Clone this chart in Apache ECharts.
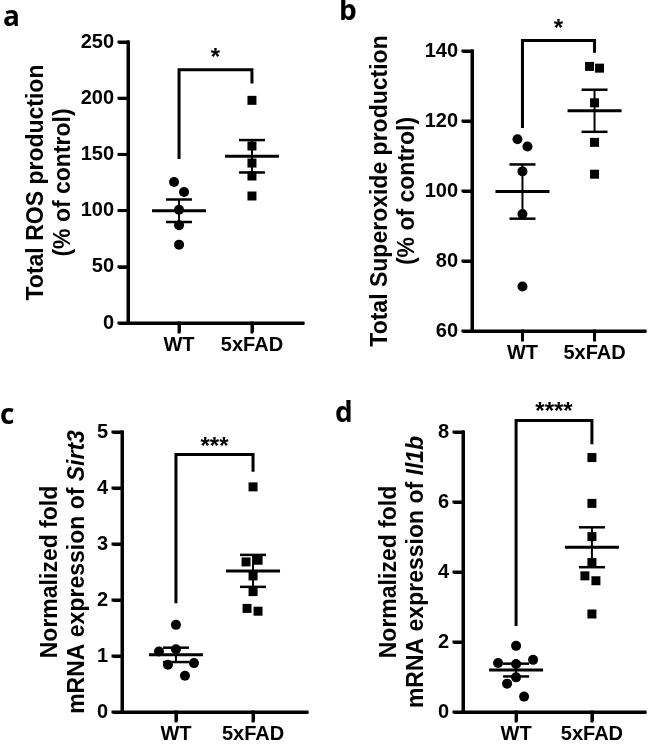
<!DOCTYPE html>
<html>
<head>
<meta charset="utf-8">
<script src="https://cdn.jsdelivr.net/npm/echarts@6/dist/echarts.min.js"></script>
<style>
html, body { margin: 0; padding: 0; background: #fff; }
#chart { width: 649px; height: 748px; }
</style>
</head>
<body>
<div id="chart"></div>
<script>
const groups = ['WT', '5xFAD'];

// a: total ROS production (% of control)
const rosWT = [125.4, 116.5, 100.8, 86.9, 69.7];
const rosFAD = [198.1, 157.5, 142.3, 130.8, 113.0];
// b: total superoxide production (% of control)
const supWT = [114.8, 112.7, 105.6, 93.4, 72.7];
const supFAD = [135.6, 135.1, 125.2, 113.9, 104.8];
// c: Sirt3 fold expression
const sirtWT = [1.556, 1.081, 1.122, 0.843, 0.873, 0.647];
const sirtFAD = [4.02, 2.68, 2.71, 2.43, 2.15, 1.85, 1.80];
// d: Il1b fold expression
const il1bWT = [1.89, 1.40, 1.37, 1.49, 0.99, 0.81, 0.44];
const il1bFAD = [7.27, 5.96, 5.01, 4.27, 3.89, 3.75, 2.80];

// significance brackets: [top, left leg end, right leg end, star level]
const rosBracket = [225.4, 146, 213, 240];
const supBracket = [143.0, 118, 139.5, 147.6];
const sirtBracket = [4.60, 1.94, 4.29, 4.82];
const il1bBracket = [8.33, 2.46, 7.65, 8.71];
const stars = ['*', '*', '***', '****'];

const labelFont = 'Liberation Sans';
const ink = '#000000';
const xMin = 0.3;
const xMax = 2.7;

function meanSem(arr) {
  const n = arr.length;
  const m = arr.reduce((s, v) => s + v, 0) / n;
  const sd = Math.sqrt(arr.reduce((s, v) => s + (v - m) * (v - m), 0) / (n - 1));
  return [m, sd / Math.sqrt(n)];
}

const panels = [
  {
    letter: 'a', wt: rosWT, fad: rosFAD, bracket: rosBracket, star: stars[0],
    jitWT: [-5, 5, 0, 0, 0], jitFAD: [0, 0, 0, 0, 0],
    grid: { left: 128, top: 42, width: 175, height: 281 },
    y: { min: 0, max: 250, interval: 50 },
    name: 'Total ROS production\n(% of control)', nameGap: 50,
    letterPos: [3, 4],
  },
  {
    letter: 'b', wt: supWT, fad: supFAD, bracket: supBracket, star: stars[1],
    jitWT: [-5, 5, 0, 0, 0], jitFAD: [-5, 5, 0, 0, 0],
    grid: { left: 472, top: 51, width: 173, height: 280 },
    y: { min: 60, max: 140, interval: 20 },
    name: 'Total Superoxide production\n(% of control)', nameGap: 50,
    letterPos: [339, -2],
  },
  {
    letter: 'c', wt: sirtWT, fad: sirtFAD, bracket: sirtBracket, star: stars[2],
    jitWT: [0, -17, 0, -8, 18, 9], jitFAD: [0, -7, 5, 0, 0, -6, 5],
    grid: { left: 122, top: 432, width: 185, height: 280 },
    y: { min: 0, max: 5, interval: 1 },
    name: '{t|Normalized fold}\n{t|mRNA expression of }{it|Sirt3}', nameGap: 31,
    letterPos: [0, 402],
  },
  {
    letter: 'd', wt: il1bWT, fad: il1bFAD, bracket: il1bBracket, star: stars[3],
    jitWT: [0, -18, 0, 17, 0, -9, 8], jitFAD: [0, 0, 0, 0, -7, 4, 0],
    grid: { left: 463, top: 432, width: 182, height: 280 },
    y: { min: 0, max: 8, interval: 2 },
    name: '{t|Normalized fold}\n{t|mRNA expression of }{it|Il1b}', nameGap: 33,
    letterPos: [335, 400],
  },
];

function renderMeanSem(params, api) {
  const x = api.value(0);
  const m = api.value(1);
  const s = api.value(2);
  const c = api.coord([x, m]);
  const hi = api.coord([x, m + s]);
  const lo = api.coord([x, m - s]);
  const st = (w) => ({ stroke: ink, lineWidth: w });
  return {
    type: 'group',
    children: [
      { type: 'line', shape: { x1: c[0], y1: hi[1], x2: c[0], y2: lo[1] }, style: st(2) },
      { type: 'line', shape: { x1: c[0] - 13, y1: hi[1], x2: c[0] + 13, y2: hi[1] }, style: st(2.5) },
      { type: 'line', shape: { x1: c[0] - 13, y1: lo[1], x2: c[0] + 13, y2: lo[1] }, style: st(2.5) },
      { type: 'line', shape: { x1: c[0] - 27, y1: c[1], x2: c[0] + 27, y2: c[1] }, style: st(3) },
    ],
  };
}

function makeBracketRenderer(label) {
  return function (params, api) {
    const top = api.value(0);
    const l = api.coord([1, api.value(1)]);
    const r = api.coord([2, api.value(2)]);
    const t1 = api.coord([1, top]);
    const t2 = api.coord([2, top]);
    const s = api.coord([1.5, api.value(3)]);
    return {
      type: 'group',
      children: [
        {
          type: 'polyline',
          shape: { points: [l, t1, t2, r] },
          style: { stroke: ink, lineWidth: 3, fill: null },
        },
        {
          type: 'text',
          x: s[0], y: s[1] + 5,
          style: {
            text: label, fill: ink, fontSize: 24, fontWeight: 'bold',
            fontFamily: labelFont, textAlign: 'center', textVerticalAlign: 'middle',
          },
        },
      ],
    };
  };
}

const gridList = [];
const xAxisList = [];
const yAxisList = [];
const seriesList = [];
const graphicList = [];

panels.forEach((p, i) => {
  gridList.push(p.grid);
  xAxisList.push({
    gridIndex: i,
    type: 'value',
    min: xMin,
    max: xMax,
    splitLine: { show: false },
    axisLine: { show: true, onZero: false, lineStyle: { color: ink, width: 3 } },
    axisTick: { show: true, customValues: [1, 2], length: 9, lineStyle: { color: ink, width: 3 } },
    axisLabel: {
      show: true,
      customValues: [1, 2],
      formatter: (v) => groups[Math.round(v) - 1],
      margin: 12, color: ink, fontSize: 20, fontWeight: 'bold', fontFamily: labelFont,
    },
  });
  yAxisList.push({
    gridIndex: i,
    type: 'value',
    min: p.y.min,
    max: p.y.max,
    interval: p.y.interval,
    splitLine: { show: false },
    axisLine: { show: true, lineStyle: { color: ink, width: 3 } },
    axisTick: { show: true, length: 9, lineStyle: { color: ink, width: 3 } },
    axisLabel: { margin: 14, color: ink, fontSize: 20, fontWeight: 'bold', fontFamily: labelFont },
    name: p.name,
    nameLocation: 'middle',
    nameRotate: 90,
    nameGap: p.nameGap,
    nameTextStyle: {
      color: ink, fontSize: 23, fontWeight: 'bold', fontFamily: labelFont, lineHeight: 27,
      rich: {
        t: { fontSize: 23, fontWeight: 'bold', fontFamily: labelFont, color: ink, lineHeight: 27 },
        it: { fontSize: 23, fontWeight: 'bold', fontStyle: 'italic', fontFamily: labelFont, color: ink, lineHeight: 27 },
      },
    },
  });

  seriesList.push({
    type: 'scatter',
    xAxisIndex: i, yAxisIndex: i,
    symbol: 'circle', symbolSize: 10,
    itemStyle: { color: ink, opacity: 1 },
    data: p.wt.map((v, k) => ({ value: [1, v], symbolOffset: [p.jitWT[k], 0] })),
  });
  seriesList.push({
    type: 'scatter',
    xAxisIndex: i, yAxisIndex: i,
    symbol: 'rect', symbolSize: 9,
    itemStyle: { color: ink, opacity: 1 },
    data: p.fad.map((v, k) => ({ value: [2, v], symbolOffset: [p.jitFAD[k], 0] })),
  });
  seriesList.push({
    type: 'custom',
    xAxisIndex: i, yAxisIndex: i,
    renderItem: renderMeanSem,
    data: [[1].concat(meanSem(p.wt)), [2].concat(meanSem(p.fad))],
  });
  seriesList.push({
    type: 'custom',
    xAxisIndex: i, yAxisIndex: i,
    clip: false,
    renderItem: makeBracketRenderer(p.star),
    data: [p.bracket],
  });

  graphicList.push({
    type: 'text',
    left: p.letterPos[0], top: p.letterPos[1],
    style: { text: p.letter, fill: ink, fontSize: 28, fontWeight: 'bold', fontFamily: 'Open Sans' },
  });
});

const chart = echarts.init(document.getElementById('chart'));
chart.setOption({
  animation: false,
  grid: gridList,
  xAxis: xAxisList,
  yAxis: yAxisList,
  series: seriesList,
});

// heavy Prism-style frame: positions come from each grid's own scales
function frameLine(a, b) {
  return {
    type: 'line',
    z: 100,
    shape: { x1: a[0], y1: a[1], x2: b[0], y2: b[1] },
    style: { stroke: ink, lineWidth: 3, lineCap: 'square' },
  };
}

const frame = [];
panels.forEach((p, i) => {
  const toPx = (pt) => chart.convertToPixel({ gridIndex: i }, pt);
  const o = toPx([xMin, p.y.min]);
  const top = toPx([xMin, p.y.max]);
  const right = toPx([xMax, p.y.min]);
  frame.push(frameLine([o[0], top[1]], [o[0], o[1]]));
  frame.push(frameLine([o[0], o[1]], [right[0], o[1]]));
  for (let v = p.y.min; v <= p.y.max + 1e-9; v += p.y.interval) {
    const t = toPx([xMin, v]);
    frame.push(frameLine([t[0] - 9, t[1]], [t[0], t[1]]));
  }
  [1, 2].forEach((g) => {
    const t = toPx([g, p.y.min]);
    frame.push(frameLine([t[0], t[1]], [t[0], t[1] + 9]));
  });
});

chart.setOption({ graphic: graphicList.concat(frame) });
</script>
</body>
</html>
